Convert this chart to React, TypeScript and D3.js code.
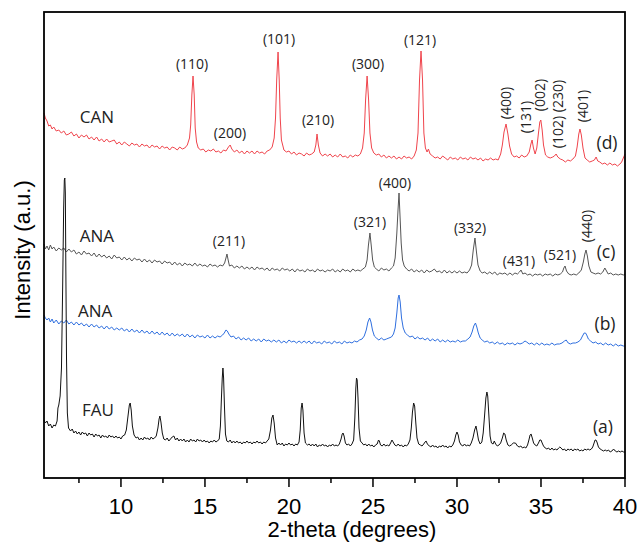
import React from "react";
import * as d3 from "d3";

// 2-theta (deg), intensity (a.u.) with vertical offsets already in place
const canData: [number, number][] = [
  [5.42, 365], [5.5, 360], [5.6, 357], [5.7, 352], [5.8, 353], [5.9, 349], [6.0, 351], [6.15, 347], [6.3, 348], [6.45, 345], [6.6, 347],
  [6.75, 343], [6.9, 344], [7.05, 346], [7.2, 342], [7.35, 344], [7.5, 340], [7.65, 343], [7.8, 341], [7.95, 343], [8.1, 339],
  [8.25, 341], [8.4, 338], [8.55, 341], [8.7, 337], [8.85, 339], [9.0, 336], [9.15, 339], [9.3, 336], [9.45, 337], [9.6, 338],
  [9.75, 334], [9.9, 336], [10.05, 333], [10.2, 336], [10.35, 334], [10.5, 332], [10.65, 335], [10.8, 333], [10.95, 334],
  [11.1, 331], [11.25, 334], [11.4, 332], [11.55, 333], [11.7, 330], [11.85, 333], [12.0, 331], [12.15, 332], [12.3, 329],
  [12.45, 332], [12.6, 330], [12.75, 331], [12.9, 328], [13.05, 331], [13.2, 330], [13.35, 328], [13.5, 331], [13.65, 329],
  [13.8, 330], [13.95, 333], [14.08, 340], [14.15, 353], [14.22, 383], [14.29, 402], [14.36, 383], [14.42, 350], [14.5, 336],
  [14.6, 330], [14.75, 328], [14.9, 329], [15.05, 326], [15.2, 328], [15.35, 327], [15.5, 329], [15.65, 326], [15.8, 327],
  [15.95, 325], [16.1, 328], [16.25, 327], [16.4, 331], [16.5, 333], [16.6, 329], [16.75, 326], [16.9, 328], [17.05, 325],
  [17.2, 327], [17.35, 324], [17.5, 327], [17.65, 325], [17.8, 327], [17.95, 324], [18.1, 327], [18.25, 325], [18.4, 326],
  [18.55, 324], [18.7, 327], [18.85, 328], [19.0, 331], [19.12, 340], [19.2, 360], [19.27, 398], [19.35, 426], [19.42, 398],
  [19.48, 360], [19.55, 338], [19.7, 328], [19.85, 326], [20.0, 327], [20.15, 324], [20.3, 326], [20.45, 323], [20.6, 325],
  [20.75, 324], [20.9, 322], [21.05, 325], [21.2, 323], [21.35, 324], [21.5, 326], [21.6, 333], [21.67, 344], [21.75, 333],
  [21.85, 325], [22.0, 322], [22.15, 324], [22.3, 322], [22.45, 324], [22.6, 321], [22.75, 323], [22.9, 321], [23.05, 324],
  [23.2, 321], [23.35, 322], [23.5, 320], [23.65, 323], [23.8, 321], [23.95, 323], [24.1, 322], [24.25, 324], [24.38, 330],
  [24.48, 345], [24.56, 378], [24.65, 402], [24.74, 378], [24.82, 345], [24.92, 330], [25.05, 325], [25.2, 323], [25.35, 324],
  [25.5, 321], [25.65, 323], [25.8, 320], [25.95, 322], [26.1, 320], [26.25, 322], [26.4, 319], [26.55, 321], [26.7, 319],
  [26.85, 322], [27.0, 320], [27.15, 321], [27.3, 319], [27.45, 322], [27.58, 328], [27.68, 345], [27.77, 398], [27.86, 427],
  [27.95, 398], [28.03, 345], [28.12, 330], [28.22, 326], [28.3, 329], [28.4, 324], [28.55, 322], [28.7, 320], [28.85, 321],
  [29.0, 319], [29.15, 322], [29.3, 320], [29.45, 318], [29.6, 321], [29.75, 319], [29.9, 320], [30.05, 318], [30.2, 321],
  [30.35, 319], [30.5, 320], [30.65, 318], [30.8, 321], [30.95, 319], [31.1, 320], [31.25, 318], [31.4, 320], [31.55, 317],
  [31.7, 319], [31.85, 318], [32.0, 320], [32.15, 318], [32.3, 319], [32.45, 318], [32.6, 324], [32.7, 333], [32.8, 346],
  [32.92, 354], [33.03, 344], [33.13, 332], [33.25, 324], [33.4, 321], [33.55, 322], [33.7, 320], [33.85, 323], [34.0, 321],
  [34.15, 322], [34.3, 326], [34.4, 334], [34.47, 338], [34.55, 330], [34.65, 324], [34.75, 330], [34.85, 345], [34.93, 356],
  [34.99, 358], [35.07, 348], [35.15, 333], [35.27, 323], [35.4, 321], [35.55, 320], [35.7, 321], [35.8, 322], [35.9, 324],
  [36.0, 321], [36.15, 319], [36.3, 318], [36.45, 316], [36.6, 318], [36.75, 317], [36.9, 319], [37.05, 322], [37.15, 331],
  [37.25, 344], [37.32, 349], [37.4, 343], [37.5, 330], [37.62, 320], [37.75, 318], [37.9, 316], [38.05, 317], [38.18, 318],
  [38.28, 321], [38.38, 317], [38.5, 316], [38.65, 314], [38.8, 315], [38.95, 313], [39.1, 315], [39.25, 313], [39.4, 314],
  [39.55, 312], [39.7, 314], [39.8, 316], [39.9, 320], [40.0, 324],
];

const anaCData: [number, number][] = [
  [5.42, 234], [5.5, 229], [5.6, 232], [5.7, 228], [5.8, 233], [5.9, 229], [6.0, 231], [6.15, 227], [6.3, 230], [6.45, 228],
  [6.6, 230], [6.75, 226], [6.9, 229], [7.05, 226], [7.2, 228], [7.35, 224], [7.5, 226], [7.65, 223], [7.8, 227], [7.95, 224],
  [8.1, 225], [8.25, 222], [8.4, 225], [8.55, 221], [8.7, 224], [8.85, 221], [9.0, 223], [9.15, 220], [9.3, 222], [9.45, 219],
  [9.6, 223], [9.75, 220], [9.9, 221], [10.05, 218], [10.2, 221], [10.35, 218], [10.5, 220], [10.65, 217], [10.8, 220],
  [10.95, 218], [11.1, 219], [11.25, 216], [11.4, 219], [11.55, 216], [11.7, 218], [11.85, 215], [12.0, 218], [12.15, 216],
  [12.3, 217], [12.45, 214], [12.6, 217], [12.75, 215], [12.9, 216], [13.05, 213], [13.2, 216], [13.35, 213], [13.5, 215],
  [13.65, 212], [13.8, 215], [13.95, 213], [14.1, 214], [14.25, 212], [14.4, 215], [14.55, 212], [14.7, 214], [14.85, 212],
  [15.0, 213], [15.15, 211], [15.3, 214], [15.45, 212], [15.6, 213], [15.75, 211], [15.9, 213], [16.05, 212], [16.17, 215],
  [16.25, 220], [16.31, 224], [16.38, 218], [16.46, 212], [16.6, 213], [16.75, 210], [16.9, 212], [17.05, 210], [17.2, 212],
  [17.35, 209], [17.5, 211], [17.65, 209], [17.8, 211], [17.95, 208], [18.1, 211], [18.25, 209], [18.4, 210], [18.55, 208],
  [18.7, 210], [18.85, 207], [19.0, 210], [19.15, 208], [19.3, 209], [19.45, 207], [19.6, 210], [19.75, 208], [19.9, 209],
  [20.05, 207], [20.2, 209], [20.35, 206], [20.5, 209], [20.65, 207], [20.8, 208], [20.95, 206], [21.1, 209], [21.25, 207],
  [21.4, 208], [21.55, 206], [21.7, 209], [21.85, 207], [22.0, 208], [22.15, 206], [22.3, 208], [22.45, 207], [22.6, 209],
  [22.75, 206], [22.9, 208], [23.05, 206], [23.2, 209], [23.35, 207], [23.5, 208], [23.65, 206], [23.8, 209], [23.95, 207],
  [24.1, 208], [24.25, 207], [24.4, 209], [24.55, 211], [24.65, 218], [24.73, 233], [24.82, 245], [24.9, 232], [24.98, 218],
  [25.08, 211], [25.2, 209], [25.35, 207], [25.5, 210], [25.65, 208], [25.8, 209], [25.95, 207], [26.1, 210], [26.22, 212],
  [26.32, 220], [26.42, 245], [26.49, 268], [26.55, 285], [26.61, 262], [26.68, 235], [26.76, 218], [26.86, 212], [27.0, 209],
  [27.15, 207], [27.3, 209], [27.45, 206], [27.6, 208], [27.75, 206], [27.9, 208], [28.05, 205], [28.2, 208], [28.35, 206],
  [28.5, 207], [28.65, 209], [28.8, 206], [28.95, 207], [29.1, 205], [29.25, 208], [29.4, 205], [29.55, 207], [29.7, 205],
  [29.85, 207], [30.0, 205], [30.15, 207], [30.3, 205], [30.45, 206], [30.6, 205], [30.75, 208], [30.87, 213], [30.97, 228],
  [31.07, 240], [31.16, 226], [31.25, 213], [31.38, 207], [31.5, 205], [31.65, 206], [31.8, 204], [31.95, 206], [32.1, 204],
  [32.25, 206], [32.4, 203], [32.55, 205], [32.7, 204], [32.85, 205], [33.0, 203], [33.15, 205], [33.3, 203], [33.45, 205],
  [33.6, 204], [33.72, 206], [33.81, 208], [33.92, 204], [34.05, 205], [34.2, 203], [34.35, 204], [34.5, 202], [34.65, 204],
  [34.8, 203], [34.95, 204], [35.1, 202], [35.25, 204], [35.4, 203], [35.55, 204], [35.7, 202], [35.85, 204], [36.0, 203],
  [36.15, 204], [36.28, 206], [36.36, 210], [36.43, 212], [36.52, 207], [36.65, 204], [36.8, 203], [36.95, 204], [37.1, 203],
  [37.25, 205], [37.4, 208], [37.52, 216], [37.61, 224], [37.68, 228], [37.76, 222], [37.85, 212], [37.97, 206], [38.1, 205],
  [38.25, 204], [38.4, 205], [38.55, 204], [38.68, 206], [38.8, 210], [38.9, 207], [39.0, 204], [39.15, 205], [39.3, 203],
  [39.45, 204], [39.6, 203], [39.75, 204], [39.9, 203], [40.0, 204],
];

const anaBData: [number, number][] = [
  [5.42, 163], [5.5, 160], [5.6, 158], [5.7, 160], [5.8, 156], [5.9, 159], [6.0, 155], [6.15, 158], [6.3, 154], [6.45, 157],
  [6.6, 155], [6.75, 158], [6.9, 154], [7.05, 156], [7.2, 153], [7.35, 156], [7.5, 153], [7.65, 155], [7.8, 152], [7.95, 154],
  [8.1, 151], [8.25, 154], [8.4, 151], [8.55, 153], [8.7, 150], [8.85, 152], [9.0, 149], [9.15, 152], [9.3, 149], [9.45, 151],
  [9.6, 148], [9.75, 150], [9.9, 148], [10.05, 150], [10.2, 147], [10.35, 149], [10.5, 146], [10.65, 149], [10.8, 146],
  [10.95, 148], [11.1, 145], [11.25, 148], [11.4, 145], [11.55, 147], [11.7, 144], [11.85, 147], [12.0, 144], [12.15, 146],
  [12.3, 143], [12.45, 146], [12.6, 143], [12.75, 145], [12.9, 142], [13.05, 145], [13.2, 142], [13.35, 144], [13.5, 142],
  [13.65, 144], [13.8, 141], [13.95, 144], [14.1, 141], [14.25, 143], [14.4, 140], [14.55, 143], [14.7, 141], [14.85, 142],
  [15.0, 140], [15.15, 143], [15.3, 140], [15.45, 142], [15.6, 140], [15.75, 142], [15.9, 141], [16.05, 143], [16.15, 145],
  [16.25, 148], [16.33, 147], [16.42, 144], [16.55, 141], [16.7, 142], [16.85, 139], [17.0, 141], [17.15, 138], [17.3, 140],
  [17.45, 138], [17.6, 140], [17.75, 137], [17.9, 139], [18.05, 137], [18.2, 139], [18.35, 136], [18.5, 139], [18.65, 137],
  [18.8, 138], [18.95, 136], [19.1, 138], [19.25, 136], [19.4, 138], [19.55, 135], [19.7, 137], [19.85, 135], [20.0, 138],
  [20.15, 136], [20.3, 137], [20.45, 135], [20.6, 137], [20.75, 135], [20.9, 137], [21.05, 135], [21.2, 137], [21.35, 134],
  [21.5, 137], [21.65, 135], [21.8, 136], [21.95, 134], [22.1, 137], [22.25, 135], [22.4, 136], [22.55, 134], [22.7, 137],
  [22.85, 135], [23.0, 136], [23.15, 134], [23.3, 137], [23.45, 135], [23.6, 136], [23.75, 135], [23.9, 137], [24.05, 136],
  [24.2, 138], [24.35, 139], [24.48, 142], [24.6, 148], [24.7, 156], [24.8, 160], [24.88, 156], [24.97, 148], [25.08, 142],
  [25.2, 140], [25.35, 138], [25.5, 140], [25.65, 138], [25.8, 139], [25.95, 140], [26.1, 141], [26.22, 144], [26.32, 150],
  [26.42, 165], [26.5, 180], [26.55, 183], [26.62, 176], [26.7, 160], [26.8, 150], [26.92, 145], [27.05, 143], [27.2, 141],
  [27.35, 142], [27.5, 139], [27.65, 141], [27.8, 139], [27.95, 140], [28.1, 138], [28.25, 140], [28.4, 137], [28.55, 139],
  [28.7, 137], [28.85, 139], [29.0, 136], [29.15, 138], [29.3, 136], [29.45, 138], [29.6, 136], [29.75, 137], [29.9, 136],
  [30.05, 138], [30.2, 136], [30.35, 137], [30.5, 137], [30.65, 139], [30.78, 141], [30.9, 146], [31.0, 152], [31.1, 155],
  [31.18, 151], [31.27, 145], [31.38, 140], [31.5, 138], [31.65, 136], [31.8, 137], [31.95, 135], [32.1, 136], [32.25, 134],
  [32.4, 136], [32.55, 134], [32.7, 135], [32.85, 133], [33.0, 135], [33.15, 134], [33.3, 135], [33.45, 133], [33.6, 135],
  [33.75, 134], [33.9, 135], [34.05, 137], [34.15, 136], [34.3, 134], [34.45, 135], [34.6, 133], [34.75, 135], [34.9, 133],
  [35.05, 135], [35.2, 133], [35.35, 134], [35.5, 133], [35.65, 135], [35.8, 133], [35.95, 134], [36.1, 134], [36.25, 135],
  [36.4, 137], [36.5, 138], [36.62, 135], [36.75, 134], [36.9, 135], [37.05, 135], [37.2, 136], [37.35, 138], [37.47, 142],
  [37.57, 145], [37.65, 145], [37.72, 143], [37.82, 139], [37.95, 137], [38.1, 135], [38.25, 136], [38.4, 134], [38.55, 135],
  [38.7, 133], [38.85, 135], [39.0, 133], [39.15, 134], [39.3, 132], [39.45, 134], [39.6, 132], [39.75, 133], [39.9, 132],
  [40.0, 132],
];

const fauData: [number, number][] = [
  [5.42, 58], [5.5, 55], [5.6, 57], [5.7, 52], [5.8, 54], [5.9, 50], [6.0, 53], [6.1, 52], [6.2, 57], [6.25, 70], [6.3, 73],
  [6.38, 82], [6.46, 110], [6.53, 190], [6.59, 270], [6.63, 298], [6.66, 300], [6.69, 285], [6.72, 210], [6.76, 120],
  [6.81, 65], [6.88, 50], [7.0, 47], [7.1, 49], [7.2, 45], [7.3, 47], [7.4, 44], [7.5, 46], [7.6, 43], [7.7, 46], [7.8, 44],
  [7.9, 45], [8.0, 42], [8.1, 45], [8.2, 43], [8.3, 44], [8.4, 41], [8.5, 44], [8.6, 42], [8.7, 43], [8.8, 40], [8.9, 43],
  [9.0, 41], [9.1, 42], [9.2, 40], [9.3, 43], [9.4, 41], [9.5, 42], [9.6, 40], [9.7, 42], [9.8, 40], [9.9, 41], [10.0, 39],
  [10.1, 42], [10.22, 43], [10.32, 48], [10.42, 62], [10.5, 73], [10.55, 75], [10.61, 68], [10.68, 52], [10.78, 43],
  [10.9, 40], [11.0, 41], [11.1, 38], [11.2, 40], [11.3, 38], [11.4, 41], [11.5, 39], [11.6, 40], [11.7, 38], [11.8, 41],
  [11.9, 39], [12.0, 40], [12.1, 42], [12.2, 50], [12.27, 59], [12.32, 62], [12.38, 56], [12.46, 45], [12.55, 39],
  [12.65, 38], [12.75, 40], [12.85, 37], [12.95, 39], [13.05, 41], [13.15, 42], [13.25, 38], [13.35, 40], [13.45, 37],
  [13.55, 39], [13.65, 37], [13.75, 39], [13.85, 36], [13.95, 38], [14.05, 36], [14.15, 39], [14.25, 37], [14.35, 38],
  [14.45, 36], [14.55, 39], [14.65, 37], [14.75, 38], [14.85, 36], [14.95, 38], [15.05, 36], [15.15, 37], [15.25, 35],
  [15.35, 37], [15.45, 36], [15.55, 38], [15.65, 36], [15.75, 37], [15.85, 39], [15.92, 52], [15.98, 80], [16.03, 100],
  [16.07, 110], [16.11, 100], [16.16, 72], [16.22, 44], [16.3, 37], [16.4, 36], [16.5, 38], [16.6, 35], [16.7, 37],
  [16.8, 35], [16.9, 37], [17.0, 35], [17.1, 36], [17.2, 34], [17.3, 36], [17.4, 35], [17.5, 37], [17.6, 35], [17.7, 36],
  [17.8, 34], [17.9, 36], [18.0, 35], [18.1, 37], [18.2, 35], [18.3, 36], [18.4, 34], [18.5, 36], [18.6, 35], [18.7, 37],
  [18.8, 39], [18.9, 48], [18.98, 60], [19.05, 63], [19.12, 55], [19.2, 40], [19.3, 33], [19.4, 35], [19.5, 33], [19.6, 35],
  [19.7, 32], [19.8, 34], [19.9, 33], [20.0, 35], [20.1, 33], [20.2, 34], [20.3, 32], [20.4, 34], [20.5, 33], [20.6, 36],
  [20.67, 48], [20.73, 70], [20.78, 75], [20.83, 68], [20.9, 45], [20.98, 35], [21.1, 33], [21.2, 34], [21.3, 32],
  [21.4, 34], [21.5, 32], [21.6, 34], [21.7, 31], [21.8, 33], [21.9, 32], [22.0, 34], [22.1, 32], [22.2, 33], [22.3, 31],
  [22.4, 33], [22.5, 32], [22.6, 34], [22.7, 32], [22.8, 33], [22.9, 32], [23.0, 34], [23.1, 39], [23.17, 44], [23.22, 45],
  [23.28, 42], [23.36, 35], [23.45, 33], [23.55, 34], [23.65, 32], [23.75, 34], [23.85, 38], [23.92, 60], [23.98, 90],
  [24.02, 100], [24.06, 98], [24.11, 80], [24.17, 50], [24.25, 37], [24.35, 35], [24.45, 33], [24.55, 34], [24.65, 32],
  [24.75, 34], [24.85, 32], [24.95, 33], [25.05, 31], [25.15, 33], [25.25, 34], [25.33, 38], [25.38, 37], [25.45, 33],
  [25.55, 32], [25.65, 34], [25.75, 32], [25.85, 33], [25.95, 32], [26.05, 35], [26.13, 38], [26.2, 36], [26.3, 33],
  [26.4, 32], [26.5, 34], [26.6, 32], [26.7, 33], [26.8, 31], [26.9, 33], [27.0, 32], [27.1, 34], [27.2, 38], [27.28, 50],
  [27.35, 66], [27.42, 75], [27.48, 72], [27.55, 55], [27.62, 40], [27.72, 34], [27.82, 33], [27.92, 32], [28.02, 34],
  [28.1, 36], [28.16, 37], [28.24, 34], [28.35, 32], [28.45, 31], [28.55, 33], [28.65, 31], [28.75, 32], [28.85, 30],
  [28.95, 32], [29.05, 31], [29.15, 33], [29.25, 31], [29.35, 32], [29.45, 30], [29.55, 32], [29.65, 31], [29.75, 33],
  [29.85, 37], [29.93, 43], [30.0, 46], [30.07, 43], [30.15, 36], [30.25, 33], [30.35, 32], [30.45, 34], [30.55, 32],
  [30.65, 33], [30.75, 32], [30.85, 35], [30.95, 40], [31.05, 48], [31.13, 52], [31.2, 46], [31.28, 38], [31.38, 34],
  [31.48, 36], [31.56, 45], [31.64, 62], [31.72, 80], [31.78, 86], [31.83, 82], [31.9, 62], [31.97, 42], [32.05, 35],
  [32.15, 34], [32.22, 37], [32.3, 34], [32.4, 32], [32.5, 33], [32.6, 35], [32.7, 40], [32.78, 45], [32.85, 44],
  [32.93, 38], [33.03, 33], [33.13, 32], [33.23, 33], [33.35, 35], [33.48, 35], [33.6, 32], [33.7, 31], [33.8, 32],
  [33.9, 30], [34.0, 31], [34.1, 30], [34.2, 33], [34.28, 38], [34.35, 43], [34.41, 44], [34.48, 40], [34.56, 35],
  [34.65, 33], [34.75, 32], [34.85, 35], [34.93, 38], [35.0, 38], [35.07, 35], [35.15, 32], [35.25, 30], [35.35, 29],
  [35.45, 30], [35.55, 28], [35.65, 30], [35.75, 28], [35.85, 29], [35.95, 28], [36.05, 30], [36.12, 31], [36.2, 30],
  [36.3, 28], [36.4, 29], [36.5, 27], [36.6, 29], [36.7, 28], [36.8, 29], [36.9, 27], [37.0, 29], [37.1, 28], [37.2, 29],
  [37.3, 27], [37.4, 28], [37.5, 27], [37.6, 29], [37.7, 28], [37.8, 29], [37.9, 28], [38.0, 29], [38.08, 31], [38.16, 35],
  [38.22, 38], [38.27, 38], [38.33, 36], [38.42, 31], [38.52, 29], [38.62, 28], [38.72, 27], [38.82, 28], [38.92, 27],
  [39.02, 28], [39.12, 26], [39.22, 27], [39.32, 29], [39.42, 27], [39.52, 26], [39.62, 27], [39.72, 26], [39.82, 27],
  [39.92, 26], [40.0, 26],
];

// annotations: text, 2-theta, intensity, rotated
const canLabels: [string, number, number, boolean][] = [
  ["(110)", 14.23, 415, false], ["(200)", 16.49, 346, false], ["(101)", 19.41, 440, false], ["(210)", 21.73, 359, false],
  ["(300)", 24.71, 415, false], ["(121)", 27.8, 439, false], ["(400)", 32.86, 375, true], ["(131)", 34.05, 361, true],
  ["(002)", 34.94, 383, true], ["(102)", 35.96, 346, true], ["(230)", 35.96, 382, true], ["(401)", 37.5, 372, true],
];
const anaLabels: [string, number, number, boolean][] = [
  ["(211)", 16.43, 238, false], ["(321)", 24.82, 257, false], ["(400)", 26.31, 296, false], ["(332)", 30.78, 251, false],
  ["(431)", 33.69, 218, false], ["(521)", 36.13, 224, false], ["(440)", 37.68, 252, true],
];
const sampleNames: [string, number, number][] = [
  ["CAN", 8.57, 362], ["ANA", 8.57, 243], ["ANA", 8.46, 168], ["FAU", 8.63, 69],
];
const traceTags: [string, number, number][] = [
  ["(d)", 38.93, 336], ["(c)", 38.87, 227], ["(b)", 38.81, 155], ["(a)", 38.69, 52],
];
const majorTicks = [10, 15, 20, 25, 30, 35, 40];
const minorTicks = [7.5, 12.5, 17.5, 22.5, 27.5, 32.5, 37.5];

const series = [
  { data: canData, color: "#f0444c" },
  { data: anaCData, color: "#555555" },
  { data: anaBData, color: "#2f6fdf" },
  { data: fauData, color: "#111111" },
];

export default function App() {
  const left = 44, right = 625, top = 12, bottom = 478;
  const x = d3.scaleLinear().domain([5.42, 40]).range([left, right]);
  const y = d3.scaleLinear().domain([0, 466]).range([bottom, top]);
  const line = d3.line<[number, number]>().x((d) => x(d[0])).y((d) => y(d[1]));
  const annFont = "'Open Sans', 'Noto Sans', sans-serif";
  const axFont = "'Liberation Sans', Arial, sans-serif";

  return (
    <svg width={640} height={542} style={{ position: "absolute", left: 0, top: 0, background: "#fff" }}>
      <rect x={0} y={0} width={640} height={542} fill="#fff" />
      {series.map((s, i) => (
        <path key={i} d={line(s.data) || ""} fill="none" stroke={s.color} strokeWidth={1} strokeLinejoin="round" />
      ))}
      <rect x={left} y={top} width={right - left} height={bottom - top} fill="none" stroke="#000" strokeWidth={1.8} />
      {majorTicks.map((t) => (
        <g key={"M" + t}>
          <line x1={x(t)} x2={x(t)} y1={bottom} y2={bottom + 9} stroke="#000" strokeWidth={1.5} />
          <text x={x(t)} y={514} textAnchor="middle" fontFamily={axFont} fontSize={22} fill="#000">{t}</text>
        </g>
      ))}
      {minorTicks.map((t) => (
        <line key={"m" + t} x1={x(t)} x2={x(t)} y1={bottom} y2={bottom + 5} stroke="#000" strokeWidth={1.5} />
      ))}
      <text x={352} y={537} textAnchor="middle" fontFamily={axFont} fontSize={22} fill="#000">2-theta (degrees)</text>
      <text transform="translate(30,250) rotate(-90)" textAnchor="middle" fontFamily={axFont} fontSize={22} fill="#000">Intensity (a.u.)</text>
      {[...canLabels, ...anaLabels].map(([t, dx, dy, rot], i) => (
        <text key={"l" + i} transform={`translate(${x(dx)},${y(dy)})${rot ? " rotate(-90)" : ""}`} textAnchor="middle"
          dominantBaseline="central" fontFamily={annFont} fontSize={14} fill="#222">{t}</text>
      ))}
      {sampleNames.map(([t, dx, dy], i) => (
        <text key={"n" + i} x={x(dx)} y={y(dy)} textAnchor="middle" dominantBaseline="central" fontFamily={annFont}
          fontSize={17} fill="#222">{t}</text>
      ))}
      {traceTags.map(([t, dx, dy], i) => (
        <text key={"t" + i} x={x(dx)} y={y(dy)} textAnchor="middle" dominantBaseline="central" fontFamily={annFont}
          fontSize={17.5} fill="#222">{t}</text>
      ))}
    </svg>
  );
}
